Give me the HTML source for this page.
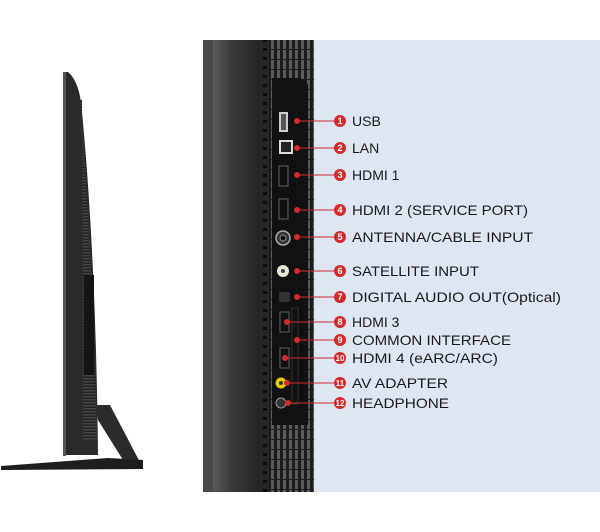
<!DOCTYPE html>
<html><head><meta charset="utf-8"><style>
html,body{margin:0;padding:0;background:#fff;width:600px;height:532px;overflow:hidden}
svg{display:block}
text{font-family:"Liberation Sans",sans-serif;font-size:14px;fill:#1a1a1a}
.n{font-size:9px;fill:#fff;font-weight:bold;text-anchor:middle}
</style></head><body>
<svg width="600" height="532" viewBox="0 0 600 532" xmlns="http://www.w3.org/2000/svg">
<defs>
<linearGradient id="g1" x1="0" x2="1"><stop offset="0" stop-color="#5a5a5a"/><stop offset="0.4" stop-color="#3a3a3a"/><stop offset="1" stop-color="#242424"/></linearGradient>
<pattern id="rib" width="6" height="10" patternUnits="userSpaceOnUse"><rect width="6" height="10" fill="#1c1c1c"/><rect x="1" y="0" width="3" height="9" fill="#5a5a5a"/></pattern>
<pattern id="dots" width="10" height="9" patternUnits="userSpaceOnUse"><rect width="10" height="9" fill="#262626"/><rect x="3" y="3" width="4" height="3" fill="#0c0c0c"/></pattern>
<pattern id="hrib" width="10" height="3" patternUnits="userSpaceOnUse"><rect width="10" height="3" fill="#222"/><rect y="0" width="10" height="1.5" fill="#444"/></pattern>
</defs>
<!-- TV side -->
<path d="M64,72 L68,72 Q80,82 82,112 Q96,260 98,455 L64,455 Z" fill="#2a2a2a"/>
<rect x="63" y="72" width="3" height="384" fill="#555"/>
<path d="M80,100 Q92,250 97,440 L83,440 L82,100 Z" fill="url(#hrib)"/>
<rect x="84" y="275" width="10" height="100" fill="#151515"/>
<path d="M96,405 L110,405 L143,468 L128,468 L98,420 Z" fill="#2b2b2b"/>
<path d="M1,466 L108,458 L143,460 L143,469 L1,470 Z" fill="#1e1e1e"/>
<!-- right panel -->
<rect x="314" y="40" width="286" height="452" fill="#dde6f2"/>
<rect x="203" y="40" width="111" height="452" fill="#1e1e1e"/>
<rect x="203" y="40" width="10" height="452" fill="#4a4a4a"/>
<rect x="213" y="40" width="47" height="452" fill="url(#g1)"/>
<rect x="259" y="40" width="10" height="452" fill="url(#dots)"/>
<rect x="269" y="40" width="45" height="452" fill="url(#rib)"/>
<path d="M272,78 L300,78 Q311,82 311,100 L311,425 L272,425 Z" fill="#111"/>
<rect x="308" y="40" width="6" height="452" fill="url(#rib)"/>
<!-- ports -->
<rect x="279" y="112" width="9" height="20" fill="#ccc"/><rect x="281" y="114" width="5" height="16" fill="#555"/>
<rect x="279" y="140" width="14" height="14" fill="#ddd"/><rect x="281" y="142" width="10" height="10" fill="#222"/>
<rect x="279" y="166" width="9" height="20" fill="none" stroke="#555" stroke-width="1.2"/>
<rect x="279" y="199" width="9" height="20" fill="none" stroke="#555" stroke-width="1.2"/>
<circle cx="283" cy="238" r="7" fill="#333" stroke="#aaa" stroke-width="1.5"/><circle cx="283" cy="238" r="3" fill="#111" stroke="#888"/>
<circle cx="283" cy="271" r="6" fill="#e8e6d8"/><circle cx="283" cy="271" r="2" fill="#444"/>
<rect x="279" y="292" width="11" height="10" rx="2" fill="#333"/>
<rect x="280" y="312" width="9" height="20" fill="none" stroke="#555" stroke-width="1.2"/>
<rect x="292" y="308" width="6" height="96" fill="none" stroke="#333"/>
<rect x="280" y="348" width="9" height="20" fill="none" stroke="#555" stroke-width="1.2"/>
<circle cx="281" cy="383" r="5.5" fill="#e8c800"/><circle cx="281" cy="383" r="2" fill="#333"/>
<circle cx="281" cy="403" r="5" fill="#333" stroke="#999"/>
<!-- callouts -->
<g stroke="#d42a2a" stroke-width="1" fill="#d42a2a">
<line x1="297" y1="121" x2="340" y2="121"/><circle cx="297" cy="121" r="2.5"/>
<line x1="297" y1="148" x2="340" y2="148"/><circle cx="297" cy="148" r="2.5"/>
<line x1="297" y1="175" x2="340" y2="175"/><circle cx="297" cy="175" r="2.5"/>
<line x1="297" y1="210" x2="340" y2="210"/><circle cx="297" cy="210" r="2.5"/>
<line x1="297" y1="237" x2="340" y2="237"/><circle cx="297" cy="237" r="2.5"/>
<line x1="297" y1="271" x2="340" y2="271"/><circle cx="297" cy="271" r="2.5"/>
<line x1="297" y1="297" x2="340" y2="297"/><circle cx="297" cy="297" r="2.5"/>
<line x1="287" y1="322" x2="340" y2="322"/><circle cx="287" cy="322" r="2.5"/>
<line x1="297" y1="340" x2="340" y2="340"/><circle cx="297" cy="340" r="2.5"/>
<line x1="285" y1="358" x2="340" y2="358"/><circle cx="285" cy="358" r="2.5"/>
<line x1="287" y1="383" x2="340" y2="383"/><circle cx="287" cy="383" r="2.5"/>
<line x1="288" y1="403" x2="340" y2="403"/><circle cx="288" cy="403" r="2.5"/>
</g>
<g fill="#d42a2a">
<circle cx="340" cy="121" r="6"/><circle cx="340" cy="148" r="6"/><circle cx="340" cy="175" r="6"/><circle cx="340" cy="210" r="6"/><circle cx="340" cy="237" r="6"/><circle cx="340" cy="271" r="6"/><circle cx="340" cy="297" r="6"/><circle cx="340" cy="322" r="6"/><circle cx="340" cy="340" r="6"/><circle cx="340" cy="358" r="6"/><circle cx="340" cy="383" r="6"/><circle cx="340" cy="403" r="6"/>
</g>
<g class="n">
<text class="n" x="340" y="124">1</text><text class="n" x="340" y="151">2</text><text class="n" x="340" y="178">3</text><text class="n" x="340" y="213">4</text><text class="n" x="340" y="240">5</text><text class="n" x="340" y="274">6</text><text class="n" x="340" y="300">7</text><text class="n" x="340" y="325">8</text><text class="n" x="340" y="343">9</text><text class="n" x="340" y="361" style="font-size:8px">10</text><text class="n" x="340" y="386" style="font-size:8px">11</text><text class="n" x="340" y="406" style="font-size:8px">12</text>
</g>
<text x="352" y="126">USB</text>
<text x="352" y="153">LAN</text>
<text x="352" y="180">HDMI 1</text>
<text x="352" y="215" textLength="176" lengthAdjust="spacingAndGlyphs">HDMI 2 (SERVICE PORT)</text>
<text x="352" y="242" textLength="181" lengthAdjust="spacingAndGlyphs">ANTENNA/CABLE INPUT</text>
<text x="352" y="276" textLength="127" lengthAdjust="spacingAndGlyphs">SATELLITE INPUT</text>
<text x="352" y="302" textLength="209" lengthAdjust="spacingAndGlyphs">DIGITAL AUDIO OUT(Optical)</text>
<text x="352" y="327">HDMI 3</text>
<text x="352" y="345" textLength="159" lengthAdjust="spacingAndGlyphs">COMMON INTERFACE</text>
<text x="352" y="363" textLength="146" lengthAdjust="spacingAndGlyphs">HDMI 4 (eARC/ARC)</text>
<text x="352" y="388" textLength="96" lengthAdjust="spacingAndGlyphs">AV ADAPTER</text>
<text x="352" y="408" textLength="97" lengthAdjust="spacingAndGlyphs">HEADPHONE</text>
</svg>
</body></html>
